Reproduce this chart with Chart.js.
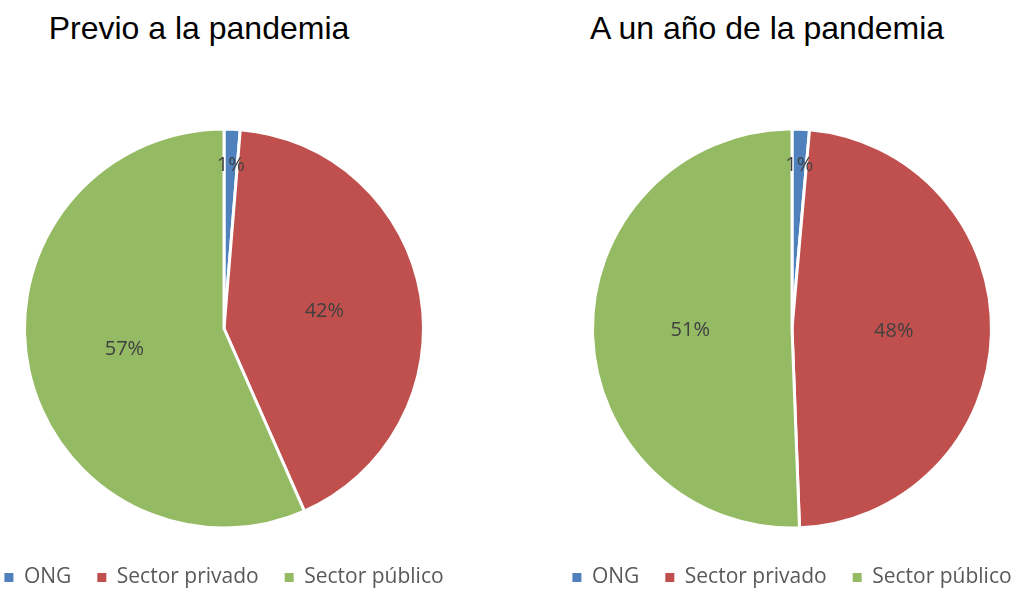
<!DOCTYPE html>
<html lang="es">
  <head>
    <meta charset="UTF-8" />
    <title>Sector de empleo antes y después de la pandemia</title>
    <script src="https://cdn.jsdelivr.net/npm/chart.js@4.4.1/dist/chart.umd.min.js"></script>
    <style>
      body { margin: 0; background: #fff; overflow: hidden; width: 1022px; height: 591px; position: relative; }
      .title { position: absolute; top: 12px; width: 400px; text-align: center;
               font-family: "Liberation Sans", Arial, sans-serif; font-size: 32px; line-height: 32px; color: #000; }
      .box { position: absolute; top: 0; width: 560px; height: 598px; }
    </style>
  </head>
  <body>
    <div class="title" style="left: -1px">Previo a la pandemia</div>
    <div class="title" style="left: 567px">A un año de la pandemia</div>
    <div class="box" style="left: -56px"><canvas id="antes" width="560" height="598"></canvas></div>
    <div class="box" style="left: 512px"><canvas id="despues" width="560" height="598"></canvas></div>

    <script>
      // categorias y valores (%)
      const sectores = ["ONG", "Sector privado", "Sector público"];
      const previo = [1.3, 42.1, 56.6];
      const unAnio = [1.4, 48.0, 50.6];
      const colores = ["#4F81BD", "#C0504D", "#94BB63"];

      const fuente = '"Open Sans", "Noto Sans", sans-serif';

      // etiquetas de porcentaje dentro de cada sector
      const etiquetas = {
        id: "etiquetas",
        afterDatasetsDraw(chart) {
          const ctx = chart.ctx;
          const meta = chart.getDatasetMeta(0);
          const datos = chart.data.datasets[0].data;
          const total = datos.reduce((a, b) => a + b, 0);
          ctx.save();
          ctx.font = "20px " + fuente;
          ctx.fillStyle = "#404040";
          ctx.textAlign = "center";
          ctx.textBaseline = "middle";
          meta.data.forEach((arc, i) => {
            const p = arc.getProps(["x", "y", "startAngle", "endAngle", "outerRadius"], true);
            const pct = (datos[i] / total) * 100;
            const ang = (p.startAngle + p.endAngle) / 2;
            const r = p.outerRadius * (pct < 5 ? 0.82 : 0.51);
            ctx.fillText(Math.round(pct) + "%", p.x + Math.cos(ang) * r, p.y + Math.sin(ang) * r);
          });
          ctx.restore();
        },
      };

      function crearPastel(id, valores) {
        return new Chart(document.getElementById(id), {
          type: "pie",
          data: {
            labels: sectores,
            datasets: [
              {
                data: valores,
                backgroundColor: colores,
                borderColor: "#fff",
                borderWidth: 3,
                radius: 199.5,
              },
            ],
          },
          options: {
            responsive: false,
            animation: false,
            layout: { padding: { top: 116, bottom: 0 } },
            plugins: {
              title: { display: false },
              tooltip: { enabled: false },
              legend: {
                position: "bottom",
                labels: {
                  boxWidth: 9,
                  boxHeight: 9,
                  padding: 26,
                  color: "#595959",
                  font: { family: fuente, size: 21 },
                  generateLabels(chart) {
                    const base = Chart.overrides.pie.plugins.legend.labels.generateLabels(chart);
                    return base.map((l) => ({ ...l, lineWidth: 0, strokeStyle: l.fillStyle }));
                  },
                },
              },
            },
          },
          plugins: [etiquetas],
        });
      }

      crearPastel("antes", previo);
      crearPastel("despues", unAnio);
    </script>
  </body>
</html>
